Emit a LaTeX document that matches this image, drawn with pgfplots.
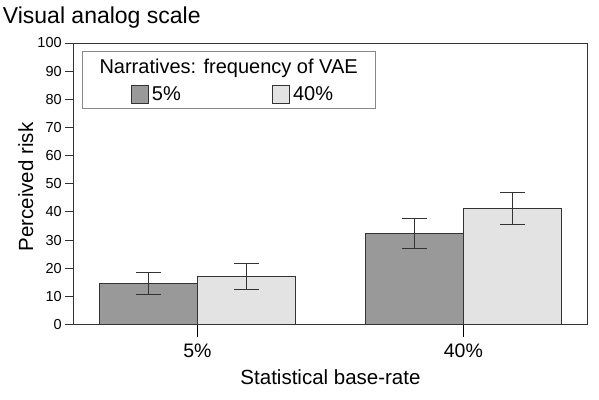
\documentclass[border=0pt]{standalone}
\usepackage{pgfplots}
\pgfplotsset{compat=1.18}
\usepackage{fontspec}
\setmainfont{Liberation Sans}
\definecolor{darkbar}{HTML}{999999}
\definecolor{lightbar}{HTML}{E3E3E3}
\definecolor{edge}{HTML}{333333}
\definecolor{boxgray}{HTML}{888888}
\begin{document}
\begin{tikzpicture}
\useasboundingbox (-73.7pt,-74.5pt) rectangle (525.3pt,324.5pt);
\begin{axis}[
  at={(0pt,0pt)}, anchor=south west,
  scale only axis, width=513.6pt, height=281.5pt,
  xmin=-0.465, xmax=1.466, ymin=0, ymax=100,
  ybar=0pt, bar width=98pt,
  axis line style={draw=edge, line width=0.9pt},
  tick align=outside,
  xtick=\empty,
  extra x ticks={0,1},
  extra x tick labels={5\%,40\%},
  extra x tick style={major tick length=12pt,
    tick style={draw=black, line width=0.9pt},
    tick label style={font=\fontsize{19.5}{22}\selectfont, anchor=base, yshift=-20.7pt}},
  ytick={0,10,...,100},
  ytick pos=left,
  xtick pos=bottom,
  major tick length=8.5pt,
  ytick style={draw=edge, line width=0.9pt},
  yticklabel style={font=\fontsize{14.5}{17}\selectfont},
  /pgf/number format/assume math mode=true,
  xlabel={Statistical base-rate},
  ylabel={Perceived risk},
  xlabel style={font=\fontsize{20.5}{24}\selectfont, at={(axis description cs:0.5,-0.2149)}, anchor=base},
  ylabel style={font=\fontsize{20.5}{24}\selectfont, at={(axis description cs:-0.0792,0.4885)}, anchor=base},
  legend columns=2,
  legend image code/.code={\draw[#1, line width=0.9pt] (0pt,-8.8pt) rectangle (17.6pt,8.8pt);},
  legend style={draw=none, fill=none, inner sep=0pt, outer sep=0pt,
    at={(axis description cs:0.111,0.8174)}, anchor=west,
    font=\fontsize{20}{24}\selectfont,
    nodes={inner sep=0pt},
    column sep=2.7pt,
    /tikz/every even column/.append style={column sep=91pt}},
  error bars/error bar style={draw=edge, line width=0.9pt},
  error bars/error mark=|,
  error bars/error mark options={draw=edge, mark size=12.35pt, line width=0.9pt},
]
\addplot[fill=darkbar, draw=edge, line width=0.9pt,
  error bars/.cd, y dir=both, y explicit]
  coordinates {(0,14.6) +- (0,4.05) (1,32.4) +- (0,5.3)};
\addplot[fill=lightbar, draw=edge, line width=0.9pt,
  error bars/.cd, y dir=both, y explicit]
  coordinates {(0,17.2) +- (0,4.65) (1,41.3) +- (0,5.75)};
\legend{5\%,40\%}
\end{axis}
\draw[boxgray, line width=0.9pt] (8.6pt,215.8pt) rectangle (301.3pt,272.8pt);
\node[anchor=base, font=\fontsize{20}{24}\selectfont, inner sep=0pt] at (154.95pt,250.5pt) {Narratives: frequency of VAE};
\node[anchor=base west, font=\fontsize{23}{27}\selectfont, inner sep=0pt] at (-71pt,300.5pt) {Visual analog scale};
\end{tikzpicture}
\end{document}
